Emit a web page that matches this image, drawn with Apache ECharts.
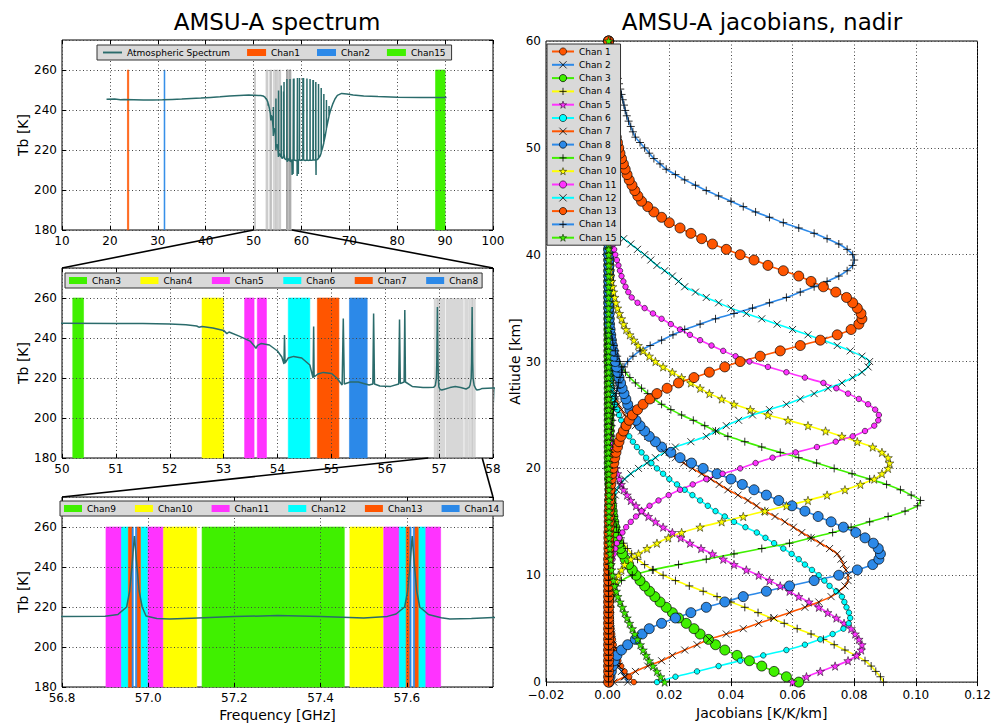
<!DOCTYPE html>
<html>
<head>
<meta charset="utf-8">
<title>AMSU-A</title>
<script src="https://cdn.jsdelivr.net/npm/echarts@6/dist/echarts.min.js"></script>
<style>
html,body{margin:0;padding:0;background:#fff;}
#chart{width:1000px;height:725px;}
</style>
</head>
<body>
<div id="chart"></div>
<script>
// ---------------- data ----------------
const spectrumTitle = 'AMSU-A spectrum';
const jacobianTitle = 'AMSU-A jacobians, nadir';

const overviewRange = [10, 100];
const zoom1Range = [50, 58];
const zoom2Range = [56.8, 57.8];
const tbRange = [180, 275];
const jacRange = [-0.02, 0.12];
const altRange = [0, 60];
const bandTb = [180, 260];

// atmospheric spectrum [GHz, K]
const spectrum = [
 [19.3,245.4],[21.0,245.5],[22.2,245.1],[23.0,245.2],[25.0,245.1],[27.0,245.0],[29.0,245.0],[31.0,245.1],[33.0,245.3],[35.0,245.5],
 [37.0,245.8],[39.0,246.0],[41.0,246.3],[43.0,246.6],[45.0,247.0],[47.0,247.3],[49.0,247.5],[50.0,247.4],[51.0,247.3],[51.5,247.2],
 [52.0,247.0],[52.3,246.6],[52.5,246.0],[52.54,245.4],[52.6,245.8],[52.8,245.0],[53.0,243.8],[53.06,242.2],[53.1,243.0],[53.3,240.8],
 [53.5,238.3],[53.57,236.0],[53.6,234.8],[53.63,236.3],[53.7,237.3],[53.85,236.5],[54.0,233.5],[54.08,230.5],[54.12,227.0],[54.13,241.5],
 [54.14,227.5],[54.2,230.0],[54.3,230.8],[54.45,230.0],[54.6,226.5],[54.66,220.0],[54.671,245.7],[54.68,220.5],[54.75,222.0],[54.85,222.8],
 [55.0,222.3],[55.1,220.0],[55.2,216.5],[55.221,249.8],[55.24,217.0],[55.35,218.0],[55.5,218.0],[55.7,216.5],[55.77,217.0],[55.784,252.3],
 [55.8,217.0],[55.9,216.0],[56.1,215.8],[56.25,217.0],[56.265,249.3],[56.28,217.2],[56.35,218.0],[56.363,254.0],[56.375,218.0],[56.5,215.8],
 [56.7,215.3],[56.8,215.2],[56.9,215.4],[56.93,216.3],[56.95,220.0],[56.957,228.0],[56.962,240.0],[56.968,255.5],[56.974,240.0],[56.979,228.0],
 [56.986,220.0],[56.995,215.5],[57.02,214.2],[57.05,214.0],[57.1,214.4],[57.2,215.2],[57.3,215.7],[57.4,215.2],[57.5,214.5],[57.555,215.3],
 [57.575,216.5],[57.595,220.0],[57.602,228.0],[57.607,240.0],[57.6125,255.5],[57.618,240.0],[57.623,228.0],[57.63,220.0],[57.65,216.3],[57.68,214.6],
 [57.7,214.0],[57.75,214.2],[57.8,214.8],[58.0,215.0],
 [58.04,215.0],[58.05,207.5],[58.06,215.0],[58.24,215.0],[58.25,208.0],[58.26,215.0],
 [58.31,215.2],[58.324,255.6],[58.34,215.2],[58.43,215.2],[58.447,255.8],[58.46,215.0],[58.8,214.8],
 [59.09,214.8],[59.1,207.0],[59.11,214.8],[59.15,215.0],[59.164,256.0],[59.18,215.0],
 [59.34,215.0],[59.35,208.0],[59.36,215.0],[59.58,215.0],[59.591,256.0],[59.6,215.0],[60.0,214.8],
 [60.29,215.0],[60.306,256.0],[60.32,215.0],[60.42,215.0],[60.435,256.0],[60.45,215.0],[60.8,214.8],
 [61.14,215.0],[61.151,255.8],[61.165,215.0],[61.5,214.8],[61.79,215.0],[61.8,255.5],[61.815,215.0],[62.1,214.8],
 [62.4,215.0],[62.411,255.0],[62.425,215.0],[62.475,215.0],[62.486,255.0],[62.5,215.0],
 [62.985,215.0],[62.998,254.0],[63.01,215.0],[63.04,215.0],[63.05,207.5],[63.06,215.0],[63.3,215.2],
 [63.555,215.8],[63.568,253.0],[63.58,216.0],[63.9,217.0],[64.115,218.5],[64.128,251.0],[64.14,219.0],[64.4,221.0],
 [64.665,223.5],[64.678,248.0],[64.69,224.0],[65.0,227.5],[65.21,230.5],[65.224,245.0],[65.24,231.0],[65.5,234.0],
 [65.75,236.8],[65.764,242.0],[65.78,237.2],[66.0,239.2],[66.5,242.8],[67.0,245.5],[67.5,247.3],[68.4,248.3],[69.5,248.0],
 [70.8,247.5],[73.0,247.0],[76.0,246.7],[80.0,246.4],[85.0,246.2],[90.3,246.2]
];

// channel passbands [GHz start, GHz end]
const chan1Band = [[23.665, 23.935]];
const chan2Band = [[31.31, 31.49]];
const chan3Band = [[50.2, 50.4]];
const chan4Band = [[52.6, 53.0]];
const chan5Band = [[53.39, 53.565], [53.625, 53.795]];
const chan6Band = [[54.2, 54.6]];
const chan7Band = [[54.74, 55.14]];
const chan8Band = [[55.335, 55.665]];
const chan9Band = [[57.125, 57.455]];
const chan10Band = [[57.035, 57.1125], [57.468, 57.545]];
const chan11Band = [[56.902, 56.938], [56.998, 57.034], [57.5465, 57.5825], [57.6425, 57.6785]];
const chan12Band = [[56.938, 56.954], [56.982, 56.998], [57.5825, 57.5985], [57.6265, 57.6425]];
const chan13Band = [[56.954, 56.9625], [56.9735, 56.982], [57.5985, 57.607], [57.618, 57.6265]];
const chan14Band = [[56.9625, 56.9655], [56.9705, 56.9735], [57.607, 57.610], [57.615, 57.618]];
const chan15Band = [[88.0, 90.0]];

// jacobians: altitude [km] and K/K/km per channel (one row = 5 km)
const altitudeKm = [
 0,0.5,1,1.5,2,2.5,3,3.5,4,4.5, 5,5.5,6,6.5,7,7.5,8,8.5,9,9.5,
 10,10.5,11,11.5,12,12.5,13,13.5,14,14.5, 15,15.5,16,16.5,17,17.5,18,18.5,19,19.5,
 20,20.5,21,21.5,22,22.5,23,23.5,24,24.5, 25,25.5,26,26.5,27,27.5,28,28.5,29,29.5,
 30,30.5,31,31.5,32,32.5,33,33.5,34,34.5, 35,35.5,36,36.5,37,37.5,38,38.5,39,39.5,
 40,40.5,41,41.5,42,42.5,43,43.5,44,44.5, 45,45.5,46,46.5,47,47.5,48,48.5,49,49.5,
 50,50.5,51,51.5,52,52.5,53,53.5,54,54.5, 55,55.5,56,56.5,57,57.5,58,58.5,59,59.5,
 60];

const jac1 = [
 0.0085,0.0070,0.0055,0.0044,0.0035,0.0029,0.0024,0.0020,0.0017,0.0015,
 0.0013,0.0011,0.0010,0.0009,0.0008,0.0008,0.0007,0.0007,0.0006,0.0006,
 0.0005,0.0005,0.0005,0.0005,0.0005,0.0005,0.0005,0.0005,0.0005,0.0005,
 0.0005,0.0005,0.0005,0.0005,0.0005,0.0005,0.0005,0.0005,0.0005,0.0005,
 0.0004,0.0004,0.0004,0.0004,0.0004,0.0004,0.0004,0.0004,0.0004,0.0004,
 0.0004,0.0004,0.0004,0.0004,0.0004,0.0004,0.0004,0.0004,0.0004,0.0004,
 0.0004,0.0004,0.0004,0.0004,0.0004,0.0004,0.0004,0.0004,0.0004,0.0004,
 0.0004,0.0004,0.0004,0.0004,0.0004,0.0004,0.0004,0.0004,0.0004,0.0004,
 0.0003,0.0003,0.0003,0.0003,0.0003,0.0003,0.0003,0.0003,0.0003,0.0003,
 0.0003,0.0003,0.0003,0.0003,0.0003,0.0003,0.0003,0.0003,0.0003,0.0003,
 0.0003,0.0003,0.0003,0.0003,0.0003,0.0003,0.0003,0.0003,0.0003,0.0003,
 0.0003,0.0003,0.0003,0.0003,0.0003,0.0003,0.0003,0.0003,0.0003,0.0003,
 0.0003];
const jac2 = [
 0.0065,0.0055,0.0045,0.0037,0.0030,0.0025,0.0020,0.0017,0.0015,0.0013,
 0.0011,0.0010,0.0009,0.0008,0.0007,0.0007,0.0006,0.0006,0.0005,0.0005,
 0.0004,0.0004,0.0004,0.0004,0.0004,0.0004,0.0004,0.0004,0.0004,0.0004,
 0.0004,0.0004,0.0004,0.0004,0.0004,0.0004,0.0004,0.0004,0.0004,0.0004,
 0.0003,0.0003,0.0003,0.0003,0.0003,0.0003,0.0003,0.0003,0.0003,0.0003,
 0.0003,0.0003,0.0003,0.0003,0.0003,0.0003,0.0003,0.0003,0.0003,0.0003,
 0.0003,0.0003,0.0003,0.0003,0.0003,0.0003,0.0003,0.0003,0.0003,0.0003,
 0.0003,0.0003,0.0003,0.0003,0.0003,0.0003,0.0003,0.0003,0.0003,0.0003,
 0.0003,0.0003,0.0003,0.0003,0.0003,0.0003,0.0003,0.0003,0.0003,0.0003,
 0.0003,0.0003,0.0003,0.0003,0.0003,0.0003,0.0003,0.0003,0.0003,0.0003,
 0.0002,0.0002,0.0002,0.0002,0.0002,0.0002,0.0002,0.0002,0.0002,0.0002,
 0.0002,0.0002,0.0002,0.0002,0.0002,0.0002,0.0002,0.0002,0.0002,0.0002,
 0.0002];
const jac3 = [
 0.062,0.058,0.054,0.050,0.046,0.042,0.038,0.035,0.0327,0.030,
 0.028,0.0255,0.023,0.021,0.019,0.017,0.0153,0.0136,0.012,0.0105,
 0.0092,0.0080,0.0068,0.0057,0.0048,0.0042,0.0036,0.0031,0.0027,0.0023,
 0.0020,0.0017,0.0015,0.0013,0.0011,0.0009,0.0008,0.0007,0.0006,0.0006,
 0.0005,0.0005,0.0005,0.0005,0.0005,0.0005,0.0005,0.0005,0.0005,0.0005,
 0.0005,0.0005,0.0005,0.0005,0.0005,0.0005,0.0005,0.0005,0.0005,0.0005,
 0.0004,0.0004,0.0004,0.0004,0.0004,0.0004,0.0004,0.0004,0.0004,0.0004,
 0.0004,0.0004,0.0004,0.0004,0.0004,0.0004,0.0004,0.0004,0.0004,0.0004,
 0.0004,0.0004,0.0004,0.0004,0.0004,0.0004,0.0004,0.0004,0.0004,0.0004,
 0.0004,0.0004,0.0004,0.0004,0.0004,0.0004,0.0004,0.0004,0.0004,0.0004,
 0.0003,0.0003,0.0003,0.0003,0.0003,0.0003,0.0003,0.0003,0.0003,0.0003,
 0.0003,0.0003,0.0003,0.0003,0.0003,0.0003,0.0003,0.0003,0.0003,0.0003,
 0.0003];
const jac4 = [
 0.0895,0.0885,0.087,0.0855,0.0835,0.0805,0.077,0.0735,0.070,0.066,
 0.0615,0.0573,0.053,0.0488,0.0445,0.040,0.0355,0.031,0.0265,0.022,
 0.018,0.0148,0.012,0.0097,0.0078,0.0064,0.0052,0.0043,0.0035,0.0029,
 0.0024,0.0020,0.0016,0.0013,0.0010,0.0009,0.0007,0.0006,0.0005,0.0005,
 0.0004,0.0004,0.0004,0.0004,0.0004,0.0004,0.0004,0.0004,0.0004,0.0004,
 0.0004,0.0004,0.0004,0.0004,0.0004,0.0004,0.0004,0.0004,0.0004,0.0004,
 0.0003,0.0003,0.0003,0.0003,0.0003,0.0003,0.0003,0.0003,0.0003,0.0003,
 0.0003,0.0003,0.0003,0.0003,0.0003,0.0003,0.0003,0.0003,0.0003,0.0003,
 0.0003,0.0003,0.0003,0.0003,0.0003,0.0003,0.0003,0.0003,0.0003,0.0003,
 0.0003,0.0003,0.0003,0.0003,0.0003,0.0003,0.0003,0.0003,0.0003,0.0003,
 0.0003,0.0003,0.0003,0.0003,0.0003,0.0003,0.0003,0.0003,0.0003,0.0003,
 0.0003,0.0003,0.0003,0.0003,0.0003,0.0003,0.0003,0.0003,0.0003,0.0003,
 0.0003];
const jac5 = [
 0.060,0.0645,0.069,0.0738,0.078,0.0808,0.0823,0.0825,0.0815,0.0803,
 0.079,0.0767,0.0742,0.0714,0.0685,0.0653,0.062,0.059,0.056,0.0525,
 0.049,0.045,0.041,0.0375,0.034,0.0303,0.0267,0.0237,0.021,0.018,
 0.0155,0.0132,0.011,0.0092,0.0075,0.0063,0.0052,0.0044,0.0038,0.0032,
 0.0027,0.0022,0.0018,0.0015,0.0012,0.0010,0.0008,0.0006,0.0005,0.0005,
 0.0004,0.0004,0.0004,0.0004,0.0004,0.0004,0.0004,0.0004,0.0004,0.0004,
 0.0003,0.0003,0.0003,0.0003,0.0003,0.0003,0.0003,0.0003,0.0003,0.0003,
 0.0003,0.0003,0.0003,0.0003,0.0003,0.0003,0.0003,0.0003,0.0003,0.0003,
 0.0003,0.0003,0.0003,0.0003,0.0003,0.0003,0.0003,0.0003,0.0003,0.0003,
 0.0003,0.0003,0.0003,0.0003,0.0003,0.0003,0.0003,0.0003,0.0003,0.0003,
 0.0003,0.0003,0.0003,0.0003,0.0003,0.0003,0.0003,0.0003,0.0003,0.0003,
 0.0003,0.0003,0.0003,0.0003,0.0003,0.0003,0.0003,0.0003,0.0003,0.0003,
 0.0003];
const jac6 = [
 0.016,0.022,0.029,0.036,0.043,0.0505,0.058,0.064,0.069,0.073,
 0.0765,0.0782,0.0787,0.0783,0.0775,0.0768,0.076,0.0742,0.072,0.0703,
 0.0685,0.0663,0.064,0.062,0.0597,0.057,0.054,0.0512,0.0484,0.0447,
 0.041,0.038,0.035,0.0325,0.030,0.0275,0.025,0.0225,0.020,0.018,
 0.016,0.0142,0.0125,0.011,0.0095,0.0082,0.007,0.006,0.0052,0.0044,
 0.0037,0.0031,0.0025,0.0020,0.0016,0.0013,0.0010,0.0008,0.0006,0.0005,
 0.0004,0.0004,0.0004,0.0004,0.0004,0.0004,0.0004,0.0004,0.0004,0.0004,
 0.0004,0.0004,0.0004,0.0004,0.0004,0.0004,0.0004,0.0004,0.0004,0.0004,
 0.0003,0.0003,0.0003,0.0003,0.0003,0.0003,0.0003,0.0003,0.0003,0.0003,
 0.0003,0.0003,0.0003,0.0003,0.0003,0.0003,0.0003,0.0003,0.0003,0.0003,
 0.0003,0.0003,0.0003,0.0003,0.0003,0.0003,0.0003,0.0003,0.0003,0.0003,
 0.0003,0.0003,0.0003,0.0003,0.0003,0.0003,0.0003,0.0003,0.0003,0.0003,
 0.0003];
const jac7 = [
 0.002,0.0055,0.009,0.013,0.0175,0.021,0.025,0.029,0.033,0.0385,
 0.044,0.049,0.054,0.059,0.064,0.0685,0.0725,0.075,0.077,0.078,
 0.078,0.0773,0.0765,0.0757,0.0745,0.072,0.069,0.066,0.063,0.0603,
 0.0575,0.0543,0.051,0.0483,0.0455,0.0423,0.039,0.0362,0.0335,0.0305,
 0.0275,0.0247,0.022,0.020,0.018,0.0155,0.013,0.011,0.009,0.0072,
 0.0055,0.0045,0.0035,0.0028,0.0022,0.0018,0.0014,0.0011,0.0008,0.0006,
 0.0004,0.0004,0.0004,0.0004,0.0004,0.0004,0.0004,0.0004,0.0004,0.0004,
 0.0004,0.0004,0.0004,0.0004,0.0004,0.0004,0.0004,0.0004,0.0004,0.0004,
 0.0003,0.0003,0.0003,0.0003,0.0003,0.0003,0.0003,0.0003,0.0003,0.0003,
 0.0003,0.0003,0.0003,0.0003,0.0003,0.0003,0.0003,0.0003,0.0003,0.0003,
 0.0003,0.0003,0.0003,0.0003,0.0003,0.0003,0.0003,0.0003,0.0003,0.0003,
 0.0003,0.0003,0.0003,0.0003,0.0003,0.0003,0.0003,0.0003,0.0003,0.0003,
 0.0003];
const jac8 = [
 0.0005,0.0008,0.0012,0.0016,0.0022,0.0030,0.0045,0.0065,0.009,0.0112,
 0.0135,0.0175,0.022,0.027,0.032,0.038,0.044,0.0515,0.059,0.067,
 0.075,0.081,0.086,0.088,0.0885,0.0878,0.0862,0.0835,0.0805,0.0765,
 0.0725,0.0683,0.064,0.0598,0.0555,0.0515,0.0475,0.0437,0.040,0.0355,
 0.031,0.0272,0.0235,0.0205,0.0175,0.0155,0.0135,0.012,0.0105,0.0092,
 0.008,0.0072,0.0065,0.0059,0.0053,0.0047,0.0042,0.0037,0.0033,0.0029,
 0.0025,0.0021,0.0018,0.0015,0.0012,0.0010,0.0008,0.0006,0.0005,0.0005,
 0.0004,0.0004,0.0004,0.0004,0.0004,0.0004,0.0004,0.0004,0.0004,0.0004,
 0.0003,0.0003,0.0003,0.0003,0.0003,0.0003,0.0003,0.0003,0.0003,0.0003,
 0.0003,0.0003,0.0003,0.0003,0.0003,0.0003,0.0003,0.0003,0.0003,0.0003,
 0.0003,0.0003,0.0003,0.0003,0.0003,0.0003,0.0003,0.0003,0.0003,0.0003,
 0.0003,0.0003,0.0003,0.0003,0.0003,0.0003,0.0003,0.0003,0.0003,0.0003,
 0.0003];
const jac9 = [
 0.0003,0.0003,0.0003,0.0003,0.0004,0.0004,0.0004,0.0004,0.0005,0.0005,
 0.0006,0.0007,0.0008,0.0009,0.0010,0.0015,0.0020,0.0025,0.0030,0.0045,
 0.008,0.0145,0.023,0.032,0.041,0.050,0.059,0.066,0.073,0.079,
 0.085,0.091,0.0965,0.1005,0.1015,0.0985,0.095,0.0905,0.085,0.0793,
 0.0735,0.0678,0.062,0.056,0.050,0.0445,0.039,0.035,0.0315,0.0278,
 0.024,0.0205,0.0175,0.015,0.013,0.011,0.009,0.0072,0.0058,0.0047,
 0.0038,0.0031,0.0025,0.0020,0.0016,0.0013,0.0010,0.0008,0.0006,0.0005,
 0.0004,0.0004,0.0004,0.0004,0.0004,0.0004,0.0004,0.0004,0.0004,0.0004,
 0.0003,0.0003,0.0003,0.0003,0.0003,0.0003,0.0003,0.0003,0.0003,0.0003,
 0.0003,0.0003,0.0003,0.0003,0.0003,0.0003,0.0003,0.0003,0.0003,0.0003,
 0.0003,0.0003,0.0003,0.0003,0.0003,0.0003,0.0003,0.0003,0.0003,0.0003,
 0.0003,0.0003,0.0003,0.0003,0.0003,0.0003,0.0003,0.0003,0.0003,0.0003,
 0.0003];
const jac10 = [
 0.0003,0.0003,0.0003,0.0003,0.0003,0.0003,0.0004,0.0004,0.0004,0.0004,
 0.0005,0.0005,0.0006,0.0007,0.0008,0.0009,0.0010,0.0015,0.0020,0.0027,
 0.0035,0.0045,0.0055,0.0075,0.010,0.0128,0.016,0.0197,0.024,0.030,
 0.037,0.044,0.051,0.058,0.065,0.0712,0.077,0.082,0.0865,0.089,
 0.091,0.0915,0.091,0.089,0.086,0.081,0.076,0.0707,0.065,0.0585,
 0.052,0.0463,0.041,0.037,0.033,0.030,0.027,0.024,0.021,0.018,
 0.0155,0.0135,0.0115,0.0099,0.0085,0.0072,0.006,0.0052,0.0045,0.0038,
 0.0032,0.0027,0.0023,0.0019,0.0016,0.0013,0.0010,0.0008,0.0007,0.0006,
 0.0005,0.0005,0.0005,0.0005,0.0005,0.0005,0.0005,0.0005,0.0005,0.0005,
 0.0005,0.0005,0.0005,0.0005,0.0005,0.0005,0.0005,0.0005,0.0005,0.0005,
 0.0004,0.0004,0.0004,0.0004,0.0004,0.0004,0.0004,0.0004,0.0004,0.0004,
 0.0004,0.0004,0.0004,0.0004,0.0004,0.0004,0.0004,0.0004,0.0004,0.0004,
 0.0004];
const jac11 = [
 0.0003,0.0003,0.0003,0.0003,0.0003,0.0003,0.0003,0.0003,0.0003,0.0003,
 0.0004,0.0004,0.0004,0.0004,0.0005,0.0005,0.0006,0.0007,0.0008,0.0008,
 0.0009,0.0010,0.0012,0.0016,0.0020,0.0025,0.0030,0.0038,0.0048,0.0060,
 0.0075,0.0092,0.011,0.0136,0.0165,0.0198,0.0235,0.0276,0.032,0.0373,
 0.043,0.048,0.0535,0.061,0.0679,0.074,0.0795,0.0835,0.0865,0.0878,
 0.088,0.0868,0.0845,0.0815,0.078,0.0742,0.070,0.064,0.058,0.052,
 0.046,0.0415,0.0375,0.0337,0.030,0.0267,0.0235,0.0205,0.0175,0.0147,
 0.012,0.0097,0.0078,0.0067,0.0058,0.0051,0.0045,0.0040,0.0035,0.0030,
 0.0025,0.0021,0.0018,0.0015,0.0012,0.0010,0.0008,0.0006,0.0005,0.0005,
 0.0004,0.0004,0.0004,0.0004,0.0004,0.0004,0.0004,0.0004,0.0004,0.0004,
 0.0003,0.0003,0.0003,0.0003,0.0003,0.0003,0.0003,0.0003,0.0003,0.0003,
 0.0003,0.0003,0.0003,0.0003,0.0003,0.0003,0.0003,0.0003,0.0003,0.0003,
 0.0003];
const jac12 = [
 0.0003,0.0003,0.0003,0.0003,0.0003,0.0003,0.0003,0.0003,0.0003,0.0003,
 0.0003,0.0003,0.0004,0.0004,0.0004,0.0004,0.0004,0.0004,0.0004,0.0004,
 0.0004,0.0004,0.0004,0.0004,0.0005,0.0005,0.0005,0.0005,0.0005,0.0005,
 0.0006,0.0008,0.0010,0.0015,0.0020,0.0025,0.0030,0.0040,0.0055,0.0075,
 0.010,0.0127,0.0155,0.0185,0.022,0.027,0.032,0.0352,0.0385,0.0425,
 0.047,0.0525,0.058,0.0625,0.067,0.0715,0.076,0.0795,0.0825,0.0845,
 0.085,0.0825,0.0787,0.0745,0.070,0.065,0.060,0.055,0.050,0.045,
 0.040,0.036,0.032,0.0285,0.025,0.023,0.021,0.0185,0.016,0.014,
 0.012,0.0097,0.0075,0.0052,0.0030,0.0017,0.0008,0.0006,0.0005,0.0005,
 0.0004,0.0004,0.0004,0.0004,0.0004,0.0004,0.0004,0.0004,0.0004,0.0004,
 0.0003,0.0003,0.0003,0.0003,0.0003,0.0003,0.0003,0.0003,0.0003,0.0003,
 0.0003,0.0003,0.0003,0.0003,0.0003,0.0003,0.0003,0.0003,0.0003,0.0003,
 0.0003];
const jac13 = [
 0.0003,0.0003,0.0003,0.0003,0.0003,0.0003,0.0003,0.0003,0.0003,0.0003,
 0.0003,0.0003,0.0003,0.0003,0.0003,0.0003,0.0003,0.0003,0.0003,0.0003,
 0.0003,0.0003,0.0003,0.0003,0.0004,0.0004,0.0004,0.0004,0.0004,0.0005,
 0.0005,0.0005,0.0005,0.0006,0.0006,0.0007,0.0008,0.0010,0.0012,0.0014,
 0.0017,0.0020,0.0023,0.0027,0.0032,0.0037,0.0043,0.0051,0.0060,0.0070,
 0.008,0.0097,0.0115,0.0137,0.016,0.0193,0.023,0.028,0.033,0.038,
 0.043,0.0495,0.056,0.0625,0.069,0.0745,0.079,0.0815,0.0825,0.0822,
 0.081,0.0795,0.0775,0.074,0.070,0.066,0.062,0.057,0.052,0.0475,
 0.043,0.0385,0.034,0.0305,0.027,0.0235,0.020,0.0175,0.015,0.013,
 0.011,0.0098,0.0088,0.0079,0.0070,0.0063,0.0057,0.0051,0.0045,0.0040,
 0.0036,0.0032,0.0028,0.0025,0.0022,0.0019,0.0017,0.0015,0.0013,0.0011,
 0.0010,0.0009,0.0008,0.0007,0.0006,0.0005,0.0005,0.0004,0.0004,0.0003,
 0.0003];
const jac14 = [
 0.0003,0.0003,0.0003,0.0003,0.0003,0.0003,0.0003,0.0003,0.0003,0.0003,
 0.0003,0.0003,0.0003,0.0003,0.0003,0.0003,0.0003,0.0003,0.0003,0.0003,
 0.0003,0.0003,0.0003,0.0003,0.0003,0.0003,0.0003,0.0003,0.0003,0.0003,
 0.0004,0.0004,0.0004,0.0004,0.0004,0.0004,0.0004,0.0004,0.0004,0.0004,
 0.0005,0.0005,0.0006,0.0007,0.0008,0.0009,0.0010,0.0011,0.0013,0.0015,
 0.0017,0.0019,0.0022,0.0025,0.0028,0.0031,0.0035,0.0040,0.0045,0.0053,
 0.0065,0.0082,0.0105,0.0138,0.0175,0.0212,0.025,0.030,0.035,0.041,
 0.047,0.0525,0.058,0.0625,0.067,0.0712,0.075,0.0777,0.0795,0.0800,
 0.0795,0.0777,0.075,0.0712,0.067,0.062,0.057,0.0525,0.048,0.044,
 0.040,0.036,0.032,0.0285,0.025,0.022,0.019,0.017,0.015,0.0135,
 0.012,0.0105,0.009,0.0082,0.0075,0.0068,0.0062,0.0057,0.0053,0.0049,
 0.0045,0.0041,0.0037,0.0033,0.0030,0.0026,0.0022,0.0018,0.0015,0.0012,
 0.0010];
const jac15 = [
 0.0185,0.0172,0.016,0.0147,0.0135,0.0125,0.0115,0.0106,0.0097,0.0088,
 0.008,0.0071,0.0063,0.0055,0.0048,0.0040,0.0033,0.0028,0.0023,0.0019,
 0.0016,0.0013,0.0011,0.0009,0.0008,0.0007,0.0006,0.0005,0.0005,0.0005,
 0.0004,0.0004,0.0004,0.0004,0.0004,0.0004,0.0004,0.0004,0.0004,0.0004,
 0.0003,0.0003,0.0003,0.0003,0.0003,0.0003,0.0003,0.0003,0.0003,0.0003,
 0.0003,0.0003,0.0003,0.0003,0.0003,0.0003,0.0003,0.0003,0.0003,0.0003,
 0.0003,0.0003,0.0003,0.0003,0.0003,0.0003,0.0003,0.0003,0.0003,0.0003,
 0.0003,0.0003,0.0003,0.0003,0.0003,0.0003,0.0003,0.0003,0.0003,0.0003,
 0.0003,0.0003,0.0003,0.0003,0.0003,0.0003,0.0003,0.0003,0.0003,0.0003,
 0.0003,0.0003,0.0003,0.0003,0.0003,0.0003,0.0003,0.0003,0.0003,0.0003,
 0.0003,0.0003,0.0003,0.0003,0.0003,0.0003,0.0003,0.0003,0.0003,0.0003,
 0.0003,0.0003,0.0003,0.0003,0.0003,0.0003,0.0003,0.0003,0.0003,0.0003,
 0.0003];

const jacNames = ['Chan 1','Chan 2','Chan 3','Chan 4','Chan 5','Chan 6','Chan 7','Chan 8',
                  'Chan 9','Chan 10','Chan 11','Chan 12','Chan 13','Chan 14','Chan 15'];
const jacValues = [jac1,jac2,jac3,jac4,jac5,jac6,jac7,jac8,jac9,jac10,jac11,jac12,jac13,jac14,jac15];

// ---------------- styles ----------------
const FONT = 'DejaVu Sans';
const COL = {
  orange: '#ff5500', blue: '#2c89e8', green: '#40f000', yellow: '#ffff00',
  magenta: '#ff33ff', cyan: '#00ffff', teal: '#2a6b6b', gray: 'rgba(175,175,175,0.5)'
};
const X_PATH = 'path://M0,0L10,10M10,0L0,10';
const PLUS_PATH = 'path://M5,0L5,10M0,5L10,5';
const STAR_PATH = 'path://M50,2L61.8,36.2L97.6,36.2L68.6,57.6L79.4,92L50,71L20.6,92L31.4,57.6L2.4,36.2L38.2,36.2Z';
const LINE_ICON = 'path://M0,0L20,0L20,2L0,2Z';

const jacColors = [COL.orange, COL.blue, COL.green, COL.yellow, COL.magenta, COL.cyan,
                   COL.orange, COL.blue, COL.green, COL.yellow, COL.magenta, COL.cyan,
                   COL.orange, COL.blue, COL.green];
const jacMarker = ['small', 'x', 'big', 'plus', 'star', 'small', 'x', 'big', 'plus', 'star',
                   'small', 'x', 'big', 'plus', 'star'];

function markerStyle(kind, color) {
  switch (kind) {
    case 'small': return {symbol: 'circle', symbolSize: 5.5, itemStyle: {color: color, borderColor: '#000', borderWidth: 0.6}};
    case 'big': return {symbol: 'circle', symbolSize: 10, itemStyle: {color: color, borderColor: '#000', borderWidth: 0.7}};
    case 'x': return {symbol: X_PATH, symbolSize: 7, itemStyle: {color: 'rgba(0,0,0,0)', borderColor: 'rgba(0,0,0,0.8)', borderWidth: 1}};
    case 'plus': return {symbol: PLUS_PATH, symbolSize: 8, itemStyle: {color: 'rgba(0,0,0,0)', borderColor: 'rgba(0,0,0,0.8)', borderWidth: 1}};
    case 'star': return {symbol: STAR_PATH, symbolSize: 8.5, itemStyle: {color: color, borderColor: '#000', borderWidth: 0.5}};
  }
}

function bandSeries(name, bands, axisIdx, color, edgeWidth) {
  return {
    type: 'custom', name: name, xAxisIndex: axisIdx, yAxisIndex: axisIdx,
    data: bands, encode: {x: [0, 1]}, z: 1, silent: true, animation: false,
    itemStyle: {color: color},
    renderItem: function (params, api) {
      const a = api.coord([api.value(0), bandTb[1]]);
      const b = api.coord([api.value(1), bandTb[0]]);
      return {
        type: 'rect',
        shape: {x: a[0], y: a[1], width: Math.max(b[0] - a[0], 0.6), height: b[1] - a[1]},
        style: edgeWidth > 0 ? {fill: color, stroke: color, lineWidth: edgeWidth} : {fill: color}
      };
    }
  };
}
function specSeries(name, axisIdx) {
  return {
    type: 'line', name: name, xAxisIndex: axisIdx, yAxisIndex: axisIdx,
    data: spectrum, symbol: 'none', showSymbol: false, clip: true, z: 3,
    lineStyle: {color: COL.teal, width: 1.5}, itemStyle: {color: COL.teal},
    animation: false, silent: true
  };
}

const tickStyle = {show: true, inside: true, length: 4, lineStyle: {color: '#000', width: 1}};
const splitStyle = {show: true, lineStyle: {color: '#444', width: 1, type: [1, 2.5]}};
const labelBase = {color: '#000', fontSize: 12, fontFamily: FONT};

function mkX(gi, range, interval, fmt, name, showMax, margin) {
  return {
    type: 'value', gridIndex: gi, min: range[0], max: range[1], interval: interval, position: 'bottom', z: 2,
    axisLine: {show: false}, axisTick: tickStyle, splitLine: splitStyle,
    axisLabel: Object.assign({margin: margin, formatter: fmt, showMinLabel: true, showMaxLabel: showMax}, labelBase),
    name: name || '', nameLocation: 'middle', nameGap: 21,
    nameTextStyle: {fontSize: 14, fontFamily: FONT, color: '#000'}
  };
}
function mkXTop(gi, range, interval) {
  return {type: 'value', gridIndex: gi, min: range[0], max: range[1], interval: interval, position: 'top', z: 2,
    axisLine: {show: false}, axisTick: tickStyle, splitLine: {show: false}, axisLabel: {show: false}};
}
function mkY(gi, range, interval, name, gap) {
  return {
    type: 'value', gridIndex: gi, min: range[0], max: range[1], interval: interval, position: 'left', z: 2,
    axisLine: {show: false}, axisTick: tickStyle, splitLine: splitStyle,
    axisLabel: Object.assign({margin: 5, showMaxLabel: range[1] % interval === 0}, labelBase),
    name: name, nameLocation: 'middle', nameGap: gap, nameRotate: 90,
    nameTextStyle: {fontSize: 14, fontFamily: FONT, color: '#000'}
  };
}
function mkYRight(gi, range, interval) {
  return {type: 'value', gridIndex: gi, min: range[0], max: range[1], interval: interval, position: 'right', z: 2,
    axisLine: {show: false}, axisTick: tickStyle, splitLine: {show: false}, axisLabel: {show: false}};
}

const fmtInt = v => String(Math.round(v));
const fmt1 = v => v.toFixed(1);
const fmtJac = v => (Math.abs(v) < 1e-9 ? '0.00' : v.toFixed(2).replace('-', '\u2212'));

// ---------------- series ----------------
const series = [];
// overview panel (0)
[chan3Band, chan4Band, chan5Band, chan6Band, chan7Band, chan8Band,
 chan9Band, chan10Band, chan11Band, chan12Band, chan13Band, chan14Band]
  .forEach(b => series.push(bandSeries('overview', b, 0, COL.gray, 1)));
series.push(bandSeries('Chan1', chan1Band, 0, COL.orange, 0.6));
series.push(bandSeries('Chan2', chan2Band, 0, COL.blue, 0.6));
series.push(bandSeries('Chan15', chan15Band, 0, COL.green, 0.6));
series.push(specSeries('Atmospheric Spectrum', 0));
// zoom 1 panel (1)
[chan9Band, chan10Band, chan11Band, chan12Band, chan13Band, chan14Band]
  .forEach(b => series.push(bandSeries('zoomgray', b, 1, COL.gray, 0)));
series.push(bandSeries('Chan3', chan3Band, 1, COL.green, 0.6));
series.push(bandSeries('Chan4', chan4Band, 1, COL.yellow, 0.6));
series.push(bandSeries('Chan5', chan5Band, 1, COL.magenta, 0.6));
series.push(bandSeries('Chan6', chan6Band, 1, COL.cyan, 0.6));
series.push(bandSeries('Chan7', chan7Band, 1, COL.orange, 0.6));
series.push(bandSeries('Chan8', chan8Band, 1, COL.blue, 0.6));
series.push(specSeries('spectrum zoom 1', 1));
// zoom 2 panel (2)
series.push(bandSeries('Chan9', chan9Band, 2, COL.green, 0.6));
series.push(bandSeries('Chan10', chan10Band, 2, COL.yellow, 0.6));
series.push(bandSeries('Chan11', chan11Band, 2, COL.magenta, 0.6));
series.push(bandSeries('Chan12', chan12Band, 2, COL.cyan, 0.6));
series.push(bandSeries('Chan13', chan13Band, 2, COL.orange, 0.6));
series.push(bandSeries('Chan14', chan14Band, 2, COL.blue, 0.6));
series.push(specSeries('spectrum zoom 2', 2));
// jacobians (3)
jacValues.forEach((vals, i) => {
  const m = markerStyle(jacMarker[i], jacColors[i]);
  series.push(Object.assign({
    type: 'line', name: jacNames[i], xAxisIndex: 3, yAxisIndex: 3, z: 3,
    data: altitudeKm.map((z, k) => [vals[k], z]),
    smooth: 0.2, showSymbol: true, clip: true, animation: false,
    lineStyle: {color: jacColors[i], width: 1.6}
  }, m));
});

const legendBox = {backgroundColor: '#d9d9d9', borderColor: '#333', borderWidth: 1, borderRadius: 0,
  selectedMode: false, z: 10, textStyle: {fontSize: 9, fontFamily: FONT, color: '#000', lineHeight: 9}};

const jacLegendData = jacNames.map((n, i) => {
  const m = markerStyle(jacMarker[i], jacColors[i]);
  return {name: n, itemStyle: {borderWidth: m.itemStyle.borderWidth}};
});

const option = {
  animation: false,
  backgroundColor: '#fff',
  title: [
    {text: spectrumTitle, left: 272, top: 5, textAlign: 'center',
     textStyle: {fontSize: 23, fontWeight: 'normal', fontFamily: FONT, color: '#000'}},
    {text: jacobianTitle, left: 757, top: 5, textAlign: 'center',
     textStyle: {fontSize: 23, fontWeight: 'normal', fontFamily: FONT, color: '#000'}}
  ],
  grid: [
    {left: 62, top: 40, width: 431, height: 190, show: true, borderColor: '#000', borderWidth: 1, containLabel: false},
    {left: 62, top: 268, width: 431, height: 190, show: true, borderColor: '#000', borderWidth: 1, containLabel: false},
    {left: 62, top: 497, width: 431, height: 190, show: true, borderColor: '#000', borderWidth: 1, containLabel: false},
    {left: 546, top: 41, width: 431.5, height: 646, show: true, borderColor: '#000', borderWidth: 1, containLabel: false}
  ],
  xAxis: [
    mkX(0, overviewRange, 10, fmtInt, '', true, 5),
    mkX(1, zoom1Range, 1, fmtInt, '', true, 5),
    mkX(2, zoom2Range, 0.2, fmt1, 'Frequency [GHz]', false, 5),
    mkX(3, jacRange, 0.02, fmtJac, 'Jacobians [K/K/km]', true, 7),
    mkXTop(0, overviewRange, 10), mkXTop(1, zoom1Range, 1), mkXTop(2, zoom2Range, 0.2), mkXTop(3, jacRange, 0.02)
  ],
  yAxis: [
    mkY(0, tbRange, 20, 'Tb [K]', 31),
    mkY(1, tbRange, 20, 'Tb [K]', 31),
    mkY(2, tbRange, 20, 'Tb [K]', 31),
    mkY(3, altRange, 10, 'Altiude [km]', 22),
    mkYRight(0, tbRange, 20), mkYRight(1, tbRange, 20), mkYRight(2, tbRange, 20), mkYRight(3, altRange, 10)
  ],
  legend: [
    Object.assign({}, legendBox, {left: 97, top: 45, orient: 'horizontal', itemWidth: 19, itemHeight: 7, itemGap: 17,
      padding: [3, 6, 3, 6],
      data: [{name: 'Atmospheric Spectrum', icon: LINE_ICON}, {name: 'Chan1', icon: 'rect'}, {name: 'Chan2', icon: 'rect'}, {name: 'Chan15', icon: 'rect'}]}),
    Object.assign({}, legendBox, {left: 65, top: 273, orient: 'horizontal', itemWidth: 18, itemHeight: 7, itemGap: 19.5,
      padding: [3, 4, 3, 4],
      data: ['Chan3', 'Chan4', 'Chan5', 'Chan6', 'Chan7', 'Chan8'].map(n => ({name: n, icon: 'rect'}))}),
    Object.assign({}, legendBox, {left: 60, top: 501, orient: 'horizontal', itemWidth: 18, itemHeight: 7, itemGap: 19,
      padding: [3, 4, 3, 4],
      data: ['Chan9', 'Chan10', 'Chan11', 'Chan12', 'Chan13', 'Chan14'].map(n => ({name: n, icon: 'rect'}))}),
    Object.assign({}, legendBox, {left: 547, top: 44, orient: 'vertical', itemWidth: 22, itemHeight: 9, itemGap: 4.3,
      padding: [3, 4, 3, 4], data: jacLegendData})
  ],
  series: series
};

const chart = echarts.init(document.getElementById('chart'), null, {renderer: 'svg', width: 1000, height: 725});
chart.setOption(option);

// zoom connector lines, positioned through the axes' own scales
function px(idx, pt) { return chart.convertToPixel({xAxisIndex: idx, yAxisIndex: idx}, pt); }
const connectors = [
  [px(0, [zoom1Range[0], tbRange[0]]), px(1, [zoom1Range[0], tbRange[1]])],
  [px(0, [zoom1Range[1], tbRange[0]]), px(1, [zoom1Range[1], tbRange[1]])],
  [px(1, [zoom2Range[0], tbRange[0]]), px(2, [zoom2Range[0], tbRange[1]])],
  [px(1, [zoom2Range[1], tbRange[0]]), px(2, [zoom2Range[1], tbRange[1]])]
];
chart.setOption({
  graphic: connectors.map(c => ({
    type: 'line', z: 20, silent: true,
    shape: {x1: c[0][0], y1: c[0][1], x2: c[1][0], y2: c[1][1]},
    style: {stroke: '#000', lineWidth: 1.6}
  }))
});
</script>
</body>
</html>
